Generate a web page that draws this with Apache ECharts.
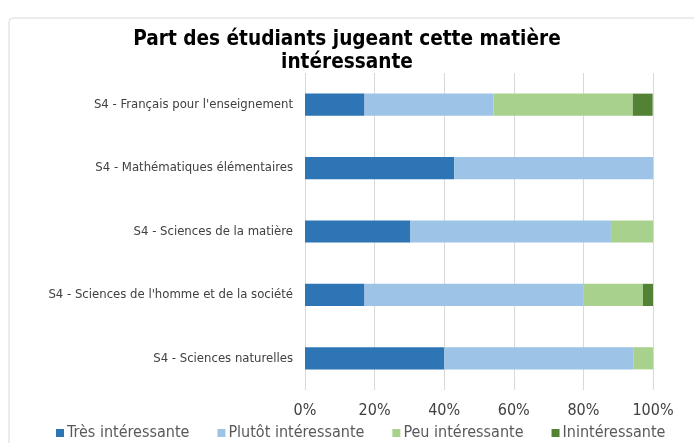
<!DOCTYPE html>
<html>
<head>
<meta charset="utf-8">
<script src="https://cdn.jsdelivr.net/npm/echarts@6/dist/echarts.min.js"></script>
<style>
  html, body { margin: 0; padding: 0; background: #fff; }
  #chart { width: 694px; height: 443px; }
</style>
</head>
<body>
<div id="chart"></div>
<script>
// matières (de haut en bas)
var categories = [
    "S4 - Français pour l'enseignement",
    'S4 - Mathématiques élémentaires',
    'S4 - Sciences de la matière',
    "S4 - Sciences de l'homme et de la société",
    'S4 - Sciences naturelles'
];
var tresInteressante    = [17.1, 42.9, 30.3, 17.1, 40.0];
var plutotInteressante  = [37.1, 57.1, 57.6, 62.9, 54.3];
var peuInteressante     = [40.0, 0, 12.1, 17.1, 5.7];
var ininteressante      = [5.7, 0, 0, 2.9, 0];
var seriesNames = ['Très intéressante', 'Plutôt intéressante', 'Peu intéressante', 'Inintéressante'];
var xTicks = [0, 20, 40, 60, 80, 100];

var font = 'DejaVu Sans Condensed';
var chart = echarts.init(document.getElementById('chart'));

function barSerie(name, data, color) {
    return {
        name: name,
        type: 'bar',
        stack: 'total',
        barWidth: '35%',
        data: data,
        itemStyle: { color: color },
        emphasis: { disabled: true }
    };
}

var option = {
    animation: false,
    textStyle: { fontFamily: font },
    title: {
        text: 'Part des étudiants jugeant cette matière\nintéressante',
        left: 'center',
        top: 23,
        textStyle: {
            fontFamily: font,
            fontSize: 20.6,
            fontWeight: 'bold',
            color: '#000',
            lineHeight: 23
        }
    },
    graphic: [{
        type: 'rect',
        shape: { x: 9, y: 18, width: 700, height: 440, r: 4 },
        style: { fill: 'none', stroke: '#d9d9d9', lineWidth: 1 },
        silent: true
    }],
    legend: {
        top: 420,
        left: 51,
        itemWidth: 8,
        itemHeight: 8,
        itemGap: 28,
        icon: 'rect',
        textStyle: { fontFamily: font, fontSize: 16, color: '#595959', padding: [0, 0, 0, -2] },
        data: seriesNames
    },
    grid: {
        left: 305,
        right: 41,
        top: 73,
        bottom: 53
    },
    xAxis: {
        type: 'value',
        min: xTicks[0],
        max: xTicks[xTicks.length - 1],
        interval: 20,
        axisLine: { show: false },
        axisTick: { show: false },
        axisLabel: {
            formatter: '{value}%',
            fontFamily: font,
            fontSize: 16,
            color: '#404040',
            margin: 13
        },
        splitLine: { lineStyle: { color: '#d9d9d9', width: 1 } }
    },
    yAxis: {
        type: 'category',
        inverse: true,
        data: categories,
        axisLine: { show: false },
        axisTick: { show: false },
        axisLabel: {
            fontFamily: font,
            fontSize: 13,
            color: '#404040',
            margin: 12
        }
    },
    series: [
        barSerie(seriesNames[0], tresInteressante, '#2e75b6'),
        barSerie(seriesNames[1], plutotInteressante, '#9dc3e6'),
        barSerie(seriesNames[2], peuInteressante, '#a9d18e'),
        barSerie(seriesNames[3], ininteressante, '#548235')
    ]
};

chart.setOption(option);
</script>
</body>
</html>
